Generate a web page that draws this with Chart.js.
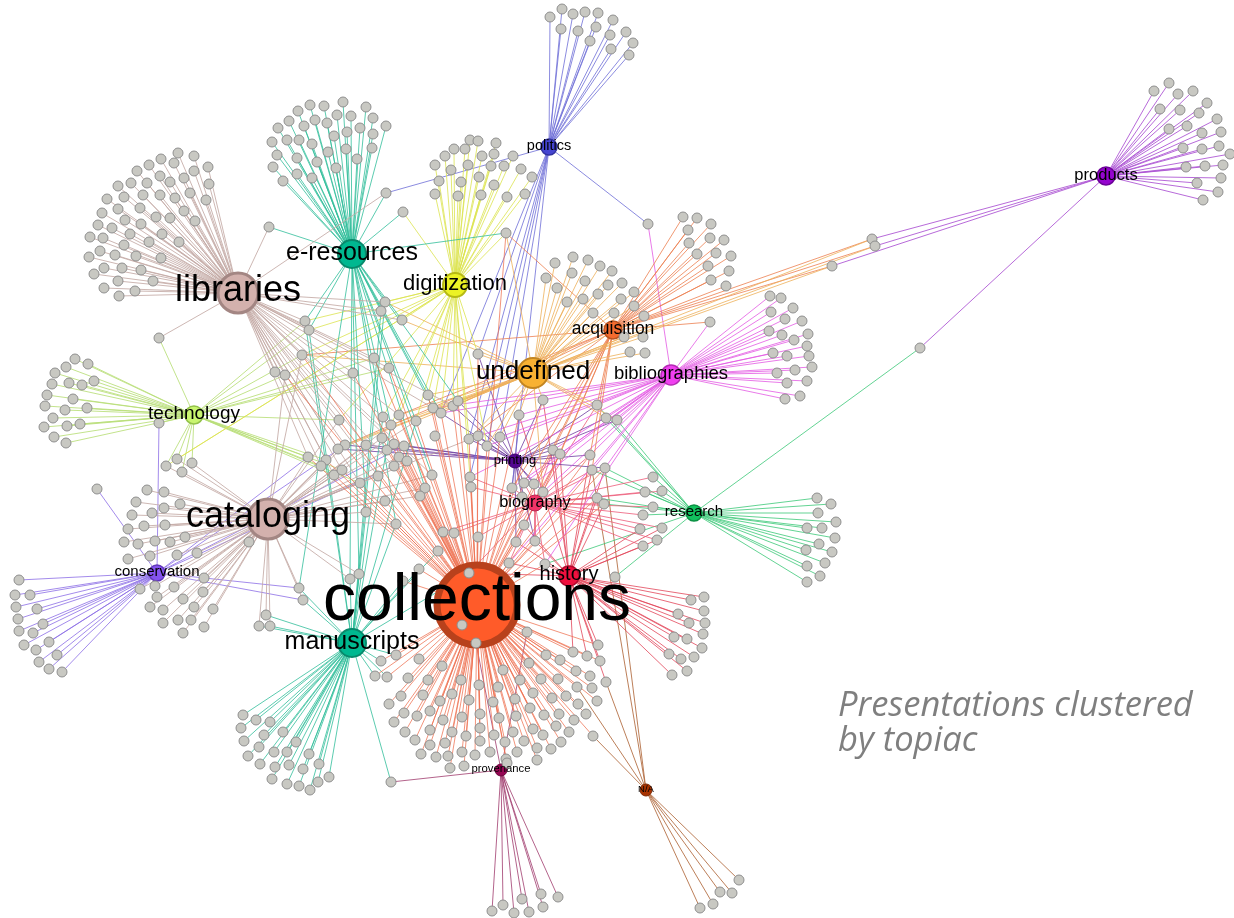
<!DOCTYPE html>
<html>
<head>
<meta charset="utf-8">
<script src="https://cdn.jsdelivr.net/npm/chart.js@4.4.1/dist/chart.umd.min.js"></script>
<style>
html, body { margin: 0; padding: 0; background: #fff; }
#wrap { position: relative; width: 1234px; height: 918px; }
#note { position: absolute; left: 838px; top: 685px; font-family: "Open Sans"; font-style: italic;
  font-size: 34.5px; line-height: 35px; color: #7f7f7f; }
</style>
</head>
<body>
<div id="wrap">
  <canvas id="graph"></canvas>
  <div id="note">Presentations clustered<br>by topiac</div>
</div>
<script>
// topics (hubs) - position in the layout and node size
const topics = ['collections', 'libraries', 'cataloging', 'e-resources', 'manuscripts', 'digitization',
  'undefined', 'acquisition', 'bibliographies', 'technology', 'conservation', 'politics', 'products',
  'printing', 'biography', 'history', 'research', 'provenance', 'N/A']
const topicX = [477, 238, 268, 352, 352, 455, 533, 613, 671, 194, 157, 549, 1106, 515, 535, 569, 694, 501, 646]
const topicY = [605, 293, 519, 254, 643, 285, 373, 330, 375, 415, 573, 147, 176, 461, 503, 576, 513, 770, 790]
const topicSize = [40, 20, 20, 14, 14, 12, 15, 9, 10, 9, 8, 8, 9, 7, 8, 10, 8, 6, 6]

// presentations linked to each topic, as x,y pairs in the layout
const collectionsLeaves = [
  419,659, 442,666, 408,678, 428,680, 461,680, 479,685, 503,670, 520,680, 529,663, 541,679, 546,655, 558,679,
  560,660, 573,652, 576,671, 587,656, 598,645, 600,661, 590,676, 592,688, 597,701, 577,687, 566,696, 552,698,
  533,693, 515,699, 493,702, 498,687, 469,700, 452,694, 440,701, 423,695, 401,696, 389,704, 404,713, 417,716,
  430,711, 443,720, 462,717, 480,714, 499,718, 516,716, 530,708, 544,715, 559,714, 574,720, 586,714, 578,704,
  556,726, 543,735, 533,729, 513,732, 494,735, 480,728, 466,736, 452,732, 430,730, 405,732, 394,722, 415,740,
  430,745, 445,743, 462,752, 480,741, 490,752, 505,742, 524,741, 537,748, 551,749, 561,742, 569,732, 593,736,
  517,752, 537,760, 506,759, 475,755, 448,756, 436,757, 421,754, 450,768, 464,766, 507,763,
  375,676, 387,677, 381,661, 396,655, 462,625, 476,643, 527,632, 469,573,
  353,373, 374,358, 389,368, 339,420, 383,417, 391,425, 399,415, 416,421, 428,395, 433,408, 441,413, 453,406,
  458,401, 435,436, 469,439, 478,436, 487,446, 500,437, 382,438, 387,450, 394,444, 404,446, 399,457, 407,461,
  394,466, 360,483, 378,476, 432,475, 425,488, 420,496, 470,477, 471,487, 512,488, 524,483, 534,484, 543,492,
  522,497, 385,501, 366,512, 396,524, 443,532, 454,533, 478,537, 524,525, 516,542, 535,541, 438,551, 419,569,
  509,563, 545,564, 403,581, 543,400, 519,415, 553,450, 560,454, 590,455, 592,470, 605,468, 597,498, 604,504,
  506,233, 478,354, 302,355, 285,375, 308,457, 326,460, 334,475, 342,470]
const librariesLeaves = [
  178,153, 194,156, 208,167, 209,184, 206,200, 195,221, 179,242, 161,258, 153,281, 135,291, 119,296, 104,288,
  94,274, 89,257, 90,237, 98,225, 102,213, 107,199, 118,186, 131,183, 137,171, 149,165, 161,159, 174,163,
  194,171, 184,178, 170,182, 160,176, 147,183, 124,197, 118,209, 125,220, 112,228, 103,238, 100,251, 115,255,
  104,268, 118,281, 122,268, 141,270, 136,256, 124,245, 130,234, 141,224, 149,242, 162,234, 170,218, 156,217,
  140,208, 143,195, 160,195, 175,198, 190,193, 184,211,
  269,227, 386,193, 305,321, 309,330, 302,355, 275,372, 285,375, 385,302, 381,311, 402,320, 374,358, 389,368,
  353,373, 339,420, 383,417, 399,415, 345,445, 338,449, 366,445, 308,457, 326,460, 321,466, 334,475, 342,470,
  360,483, 159,338, 378,476, 394,444, 433,408, 453,406, 432,475, 420,496]
const catalogingLeaves = [
  147,490, 164,492, 136,502, 152,513, 164,508, 180,504, 132,515, 144,526, 165,525, 128,529, 138,544, 155,541,
  170,542, 185,537, 124,542, 128,559, 150,556, 177,555, 197,553, 204,578, 155,586, 174,587, 203,592, 157,597,
  183,599, 194,607, 213,609, 150,607, 163,610, 178,620, 191,620, 204,627, 163,623, 183,633, 140,589,
  249,542, 266,615, 259,626, 270,626, 299,588, 303,600, 350,579, 359,574, 345,445, 338,449, 308,457, 326,460,
  334,475, 342,470, 366,445, 387,450, 382,438, 385,501, 366,512, 396,524, 420,496, 432,475, 425,488, 478,436,
  399,457, 407,461, 394,466, 302,355, 285,375, 166,466, 177,459, 192,463, 182,472, 339,420, 391,425, 416,421,
  360,483, 378,476]
const eresourcesLeaves = [
  310,105, 324,106, 343,102, 366,107, 373,118, 386,126, 373,134, 372,148, 357,159, 346,149, 336,168, 328,152,
  317,162, 312,178, 297,174, 283,181, 273,167, 277,155, 272,142, 278,128, 289,121, 298,111, 304,126, 315,120,
  327,123, 337,115, 351,116, 360,128, 347,132, 334,136, 312,144, 299,140, 287,140, 297,158,
  269,227, 386,193, 403,212, 305,321, 309,330, 385,302, 381,311, 402,320, 428,395, 433,408, 441,413, 391,425,
  416,421, 359,574, 350,579, 299,588, 383,417, 506,233, 458,401, 366,512, 396,524, 432,475, 425,488]
const manuscriptsLeaves = [
  243,715, 256,720, 270,722, 241,728, 264,735, 283,732, 244,741, 259,747, 296,742, 248,756, 274,752, 287,752,
  309,754, 260,764, 275,767, 289,765, 319,764, 303,769, 272,779, 287,784, 299,786, 310,790, 318,782, 329,777,
  391,782, 359,574, 350,579, 299,588, 303,600, 266,615, 259,626, 270,626, 305,321, 309,330, 381,311, 385,302,
  366,512, 396,524, 383,417, 391,425, 438,551, 419,569, 403,581, 416,421, 469,573, 375,676, 387,677, 381,661,
  396,655]
const digitizationLeaves = [
  470,140, 478,141, 496,143, 494,154, 513,156, 521,169, 532,177, 525,194, 507,197, 494,185, 481,195, 479,177,
  491,166, 504,166, 482,156, 468,165, 465,149, 454,149, 445,156, 435,165, 439,181, 435,194, 458,196, 461,182,
  451,170,
  403,212, 506,233, 385,302, 402,320, 305,321, 309,330, 453,406, 458,401, 441,413, 470,477, 478,354, 383,417,
  416,421, 487,446, 469,439, 428,395, 433,408, 166,466, 177,459, 302,355, 285,375, 339,420, 399,415, 391,425]
const undefinedLeaves = [
  555,263, 573,257, 588,260, 600,266, 612,271, 622,283, 634,292, 634,306, 644,316, 624,337, 643,337, 630,352,
  645,353, 593,313, 583,299, 567,302, 557,288, 546,278, 572,273, 585,281, 598,294, 608,285, 621,299, 614,313,
  478,354, 543,400, 519,415, 453,406, 458,401, 433,408, 428,395, 416,421, 399,415, 391,425, 487,446, 500,437,
  469,439, 597,405, 606,418, 617,420, 832,266, 872,239, 875,246, 543,492, 338,449, 345,445, 302,355, 385,302,
  402,320, 506,233]
const acquisitionLeaves = [
  683,217, 697,218, 711,224, 688,230, 710,238, 724,240, 689,243, 697,254, 716,253, 731,256, 708,266, 729,271,
  711,280, 726,286,
  872,239, 875,246, 832,266, 506,233, 553,450, 560,454, 590,455, 592,470, 543,492, 512,488, 524,483, 534,484,
  469,439, 597,405, 399,415, 441,413, 345,445, 302,355, 710,322]
const bibliographiesLeaves = [
  770,296, 781,298, 793,308, 771,312, 785,319, 802,321, 769,331, 782,335, 794,340, 808,334, 807,346, 773,353,
  787,356, 809,356, 812,367, 777,373, 795,370, 787,383, 807,381, 785,399, 800,396,
  710,322, 648,224, 597,405, 606,418, 617,420, 590,455, 592,470, 605,468, 553,450, 560,454, 512,488, 524,483,
  534,484, 543,400, 519,415, 487,446, 470,477, 500,437, 543,492, 509,563, 545,564, 478,436, 433,408, 441,413]
const technologyLeaves = [
  75,359, 88,364, 66,367, 55,373, 69,383, 82,385, 94,381, 52,384, 47,395, 73,399, 45,406, 65,410, 87,408,
  53,418, 44,427, 67,426, 80,424, 54,437, 66,443,
  159,338, 159,423, 166,466, 177,459, 192,463, 182,472, 302,355, 285,375, 308,457, 326,460, 321,466, 334,475,
  342,470, 353,373, 360,483, 389,368, 374,358, 339,420, 305,321, 309,330]
const conservationLeaves = [
  19,580, 15,595, 30,595, 16,607, 37,609, 18,619, 43,624, 19,631, 33,633, 24,645, 49,642, 36,650, 57,655,
  39,662, 49,669, 62,672,
  159,423, 97,489, 299,588, 303,600, 308,457, 345,445, 404,446, 394,466]
const politicsLeaves = [
  550,17, 562,9, 573,14, 585,12, 598,13, 613,20, 626,32, 633,43, 629,55, 611,49, 610,35, 596,27, 590,41,
  578,31, 561,29,
  648,224, 386,193, 500,437, 487,446, 469,439, 478,354, 441,413, 470,477, 512,488]
const productsLeaves = [
  1154,91, 1169,83, 1178,94, 1193,91, 1207,103, 1160,109, 1180,110, 1199,113, 1217,119, 1169,129, 1187,126,
  1202,133, 1221,132, 1183,148, 1202,149, 1219,146, 1230,154, 1186,167, 1205,166, 1223,165, 1221,178,
  1197,183, 1218,192, 1203,200,
  872,239, 875,246, 832,266, 920,348]
const printingLeaves = [
  487,446, 500,437, 469,439, 478,436, 512,488, 524,483, 534,484, 543,400, 519,415, 553,450, 560,454, 590,455,
  605,468, 597,405, 606,418, 617,420, 453,406, 458,401, 404,446, 394,444, 345,445, 338,449, 366,445, 543,492,
  522,497, 516,542, 535,541, 478,354, 433,408]
const biographyLeaves = [
  653,477, 645,492, 662,491, 653,507, 643,515, 662,528, 640,529, 657,540, 643,546,
  512,488, 524,483, 534,484, 543,492, 522,497, 516,542, 535,541, 553,450, 560,454, 590,455, 592,470, 605,468,
  597,498, 604,504, 469,573, 509,563, 545,564, 470,477, 471,487, 454,533, 478,537, 443,532, 597,405]
const historyLeaves = [
  691,600, 704,597, 678,614, 704,611, 689,623, 705,623, 674,637, 687,639, 703,634, 702,648, 669,654, 681,659,
  694,657, 672,675, 687,671,
  597,498, 604,504, 553,450, 560,454, 590,455, 605,468, 606,682, 509,563, 545,564, 524,525, 516,542, 535,541,
  543,400, 519,415, 469,573, 662,528, 640,529, 657,540, 643,546, 598,645, 587,656, 600,661, 573,652, 592,470]
const researchLeaves = [
  817,498, 831,504, 818,513, 836,522, 807,528, 822,528, 835,538, 819,544, 832,552, 806,550, 825,563, 807,566,
  820,576, 807,582,
  920,348, 653,477, 645,492, 662,491, 653,507, 643,515, 597,498, 604,504, 597,405, 606,418, 617,420, 605,468,
  592,470, 545,564, 615,577]
const provenanceLeaves = [
  492,911, 503,905, 514,913, 522,899, 529,912, 541,894, 543,907, 558,897,
  391,782, 476,643, 527,632]
const naLeaves = [
  739,880, 720,892, 732,893, 713,904, 700,908,
  606,682, 593,736, 577,687, 592,470, 605,468]

const members = [collectionsLeaves, librariesLeaves, catalogingLeaves, eresourcesLeaves, manuscriptsLeaves,
  digitizationLeaves, undefinedLeaves, acquisitionLeaves, bibliographiesLeaves, technologyLeaves,
  conservationLeaves, politicsLeaves, productsLeaves, printingLeaves, biographyLeaves, historyLeaves,
  researchLeaves, provenanceLeaves, naLeaves]

// styles
const hubFill = ['#ff5b29', '#d3b1ad', '#d3b1ad', '#00b890', '#00b890', '#ecf225', '#f8b132', '#f36b2f',
  '#f03ff0', '#c9f56f', '#8452ef', '#4545d2', '#9504cf', '#52068f', '#f23468', '#f0103e', '#12c25e', '#950653', '#a83200']
const hubBorder = ['#b8411c', '#a38683', '#a38683', '#088a6c', '#088a6c', '#b6b914', '#c28522', '#b9521f',
  '#b52cb5', '#93c24a', '#6137b9', '#3232a0', '#6d0399', '#3a046a', '#b5254d', '#b30a2d', '#0c9144', '#6d043c', '#7c2500']
const hubBorderW = [7, 3, 3, 2, 2, 2, 2, 1.5, 1.5, 1.5, 1.5, 1.5, 1.5, 1, 1, 1.5, 1.5, 1, 1]
const edgeColor = ['rgba(238,112,80,0.75)', 'rgba(196,170,166,0.85)', 'rgba(196,170,166,0.85)',
  'rgba(50,190,155,0.8)', 'rgba(50,190,155,0.8)', 'rgba(220,228,80,0.8)', 'rgba(238,176,90,0.8)',
  'rgba(236,128,80,0.8)', 'rgba(228,90,228,0.8)', 'rgba(184,222,120,0.85)', 'rgba(140,110,230,0.8)',
  'rgba(110,110,215,0.8)', 'rgba(170,80,210,0.85)', 'rgba(110,60,160,0.8)', 'rgba(236,90,120,0.8)',
  'rgba(226,70,90,0.8)', 'rgba(60,200,120,0.8)', 'rgba(160,60,110,0.8)', 'rgba(176,104,60,0.85)']
const labelSize = [66, 36, 36, 25, 25, 22, 26, 17.5, 18.5, 19, 15, 14.5, 16.5, 13, 16.3, 20, 15, 11.3, 9.5]

const edgeSets = topics.map((name, i) => {
  const pts = []
  const arr = members[i]
  for (let k = 0; k < arr.length; k += 2) {
    pts.push({ x: topicX[i], y: topicY[i] }, { x: arr[k], y: arr[k + 1] }, { x: NaN, y: NaN })
  }
  return {
    label: name + ' links', data: pts, showLine: true, spanGaps: false,
    borderColor: edgeColor[i], borderWidth: 1, pointRadius: 0, order: 3
  }
})

const seen = {}
const leafPts = []
members.forEach(arr => {
  for (let k = 0; k < arr.length; k += 2) {
    const key = arr[k] + ',' + arr[k + 1]
    if (!seen[key]) {
      seen[key] = true
      leafPts.push({ x: arr[k], y: arr[k + 1] })
    }
  }
})

const hubLabels = {
  id: 'hubLabels',
  afterDatasetsDraw(chart) {
    const c = chart.ctx
    const sx = chart.scales.x
    const sy = chart.scales.y
    c.save()
    c.fillStyle = '#000'
    c.textAlign = 'center'
    c.textBaseline = 'alphabetic'
    topics.forEach((t, i) => {
      c.font = labelSize[i] + 'px "Liberation Sans", Arial, sans-serif'
      c.fillText(t, sx.getPixelForValue(topicX[i]), sy.getPixelForValue(topicY[i]) + labelSize[i] * 0.22)
    })
    c.restore()
  }
}

new Chart(document.getElementById('graph'), {
  type: 'scatter',
  data: {
    datasets: [
      ...edgeSets,
      {
        label: 'topics',
        data: topics.map((t, i) => ({ x: topicX[i], y: topicY[i] })),
        pointRadius: topicSize,
        backgroundColor: hubFill,
        borderColor: hubBorder,
        borderWidth: hubBorderW,
        order: 2
      },
      {
        label: 'presentations',
        data: leafPts,
        pointRadius: 5,
        backgroundColor: '#c8c8c2',
        borderColor: '#8e8e8e',
        borderWidth: 1,
        order: 1
      }
    ]
  },
  options: {
    responsive: true,
    maintainAspectRatio: false,
    animation: false,
    events: [],
    layout: { padding: 0, autoPadding: false },
    scales: {
      x: { type: 'linear', min: 0, max: 1234, display: false },
      y: { type: 'linear', min: 0, max: 918, reverse: true, display: false }
    },
    plugins: { legend: { display: false }, tooltip: { enabled: false } }
  },
  plugins: [hubLabels]
})
</script>
</body>
</html>
